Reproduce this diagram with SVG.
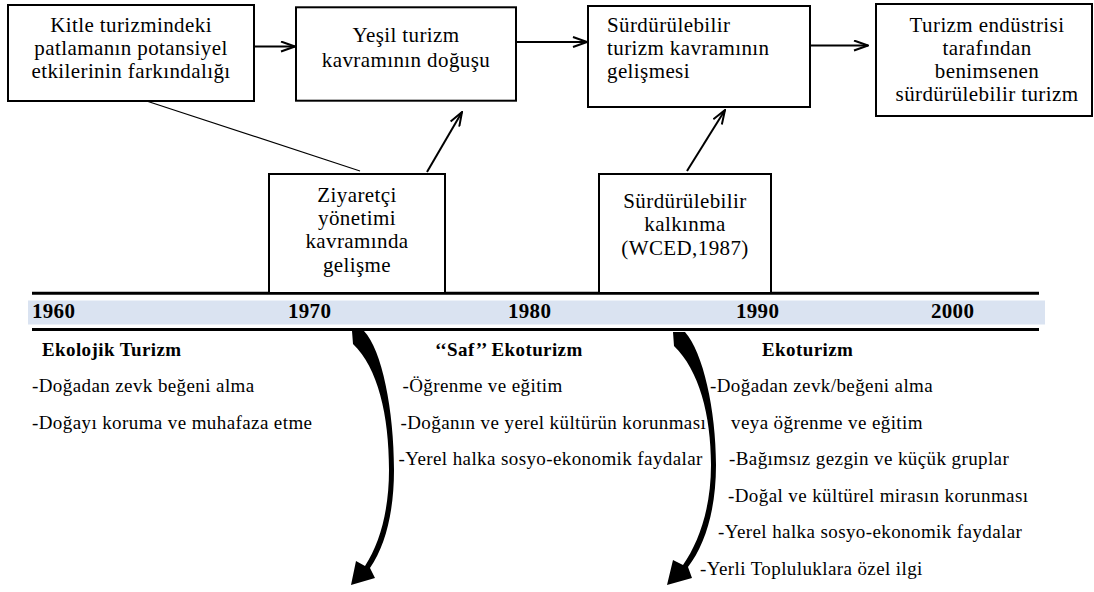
<svg xmlns="http://www.w3.org/2000/svg" width="1094" height="592" viewBox="0 0 1094 592">
<defs>
<marker id="ah" viewBox="0 0 16 12" markerWidth="16" markerHeight="12" markerUnits="userSpaceOnUse" refX="15" refY="6" orient="auto">
<path d="M1 1 L15 6 L1 11" fill="none" stroke="#000" stroke-width="2"/>
</marker>
</defs>
<style>
.box{fill:#fff;stroke:#000;stroke-width:2}
text{font-family:'Liberation Serif','DejaVu Serif',serif;fill:#000}
.t{font-size:21px;letter-spacing:0.4px}
.c{text-anchor:middle}
.b{font-size:19px;letter-spacing:0.4px}
.h{font-size:19px;font-weight:bold;letter-spacing:0.4px}
.y{font-size:21px;font-weight:bold;letter-spacing:0.3px}
.ln{stroke:#000;stroke-width:2;fill:none}
</style>
<rect width="1094" height="592" fill="#fff"/>

<g id="timeline">
<rect x="28" y="300.5" width="1017" height="24" fill="#dae3f1"/>
<line x1="32" y1="293.3" x2="1039" y2="293.3" stroke="#000" stroke-width="3"/>
<line x1="32" y1="329.5" x2="1039" y2="329.5" stroke="#000" stroke-width="3"/>
<text class="y" x="32" y="318">1960</text>
<text class="y" x="288" y="318">1970</text>
<text class="y" x="508" y="318">1980</text>
<text class="y" x="736" y="318">1990</text>
<text class="y" x="931" y="318">2000</text>
</g>

<g id="connectors">
<line class="ln" x1="254" y1="46.5" x2="295" y2="46.5" marker-end="url(#ah)"/>
<line class="ln" x1="516" y1="42" x2="587" y2="42" marker-end="url(#ah)"/>
<line class="ln" x1="811" y1="45.5" x2="868" y2="45.5" marker-end="url(#ah)"/>
<line class="ln" x1="427" y1="172" x2="462" y2="112" marker-end="url(#ah)"/>
<line class="ln" x1="687" y1="171" x2="725" y2="110" marker-end="url(#ah)"/>
<line x1="145.7" y1="100.7" x2="360" y2="171" stroke="#000" stroke-width="1.2"/>
<path d="M352 331 L364 331 C382 350 394 410 394 470 C394 510 386 545 370 568 L375 578 L351 585 L356 561 L365 566 C380 543 389 510 389 470 C389 415 378 368 353 344 Z" fill="#000"/>
<path d="M673 332 L685 332 C703 352 716 410 716 465 C716 510 705 545 688 567 L692 578 L667 585 L673 560 L683 565 C699 542 711 508 711 465 C711 415 699 370 674 346 Z" fill="#000"/>
</g>

<g id="node-kitle">
<rect class="box" x="8" y="5" width="246" height="96"/>
<text class="t c" x="131" y="31.5">Kitle turizmindeki</text>
<text class="t c" x="131" y="54.5">patlamanın potansiyel</text>
<text class="t c" x="131" y="77.5">etkilerinin farkındalığı</text>
</g>

<g id="node-yesil">
<rect class="box" x="296" y="7.3" width="220" height="93.4"/>
<text class="t c" x="406" y="42">Yeşil turizm</text>
<text class="t c" x="406" y="67">kavramının doğuşu</text>
</g>

<g id="node-surdurulebilir-turizm">
<rect class="box" x="588" y="6" width="222" height="101"/>
<text class="t" x="607" y="31.5">Sürdürülebilir</text>
<text class="t" x="607" y="54.5">turizm kavramının</text>
<text class="t" x="607" y="77.5">gelişmesi</text>
</g>

<g id="node-endustri">
<rect class="box" x="876" y="4" width="216" height="112"/>
<text class="t c" x="987" y="31.5">Turizm endüstrisi</text>
<text class="t c" x="987" y="54.5">tarafından</text>
<text class="t c" x="987" y="78">benimsenen</text>
<text class="t c" x="987" y="101">sürdürülebilir turizm</text>
</g>

<g id="node-ziyaretci">
<rect class="box" x="269" y="174" width="176" height="119"/>
<text class="t c" x="357" y="201.5">Ziyaretçi</text>
<text class="t c" x="357" y="224.5">yönetimi</text>
<text class="t c" x="357" y="248">kavramında</text>
<text class="t c" x="357" y="271.5">gelişme</text>
</g>

<g id="node-kalkinma">
<rect class="box" x="599" y="174" width="172" height="119"/>
<text class="t c" x="685" y="208">Sürdürülebilir</text>
<text class="t c" x="685" y="231">kalkınma</text>
<text class="t c" x="685" y="254.5">(WCED,1987)</text>
</g>

<g id="col-ekolojik">
<text class="h" x="42" y="356">Ekolojik Turizm</text>
<text class="b" x="32" y="392">-Doğadan zevk beğeni alma</text>
<text class="b" x="32" y="428.5">-Doğayı koruma ve muhafaza etme</text>
</g>

<g id="col-saf">
<text class="h" x="435" y="356">‘‘Saf’’ Ekoturizm</text>
<text class="b" x="402.5" y="392">-Öğrenme ve eğitim</text>
<text class="b" x="400.5" y="428.5">-Doğanın ve yerel kültürün korunması</text>
<text class="b" x="398.5" y="465">-Yerel halka sosyo-ekonomik faydalar</text>
</g>

<g id="col-ekoturizm">
<text class="h" x="762" y="356">Ekoturizm</text>
<text class="b" x="710" y="392">-Doğadan zevk/beğeni alma</text>
<text class="b" x="731" y="428.5">veya öğrenme ve eğitim</text>
<text class="b" x="729" y="465">-Bağımsız gezgin ve küçük gruplar</text>
<text class="b" x="728" y="501.7">-Doğal ve kültürel mirasın korunması</text>
<text class="b" x="718" y="538.3">-Yerel halka sosyo-ekonomik faydalar</text>
<text class="b" x="700" y="575">-Yerli Topluluklara özel ilgi</text>
</g>
</svg>
